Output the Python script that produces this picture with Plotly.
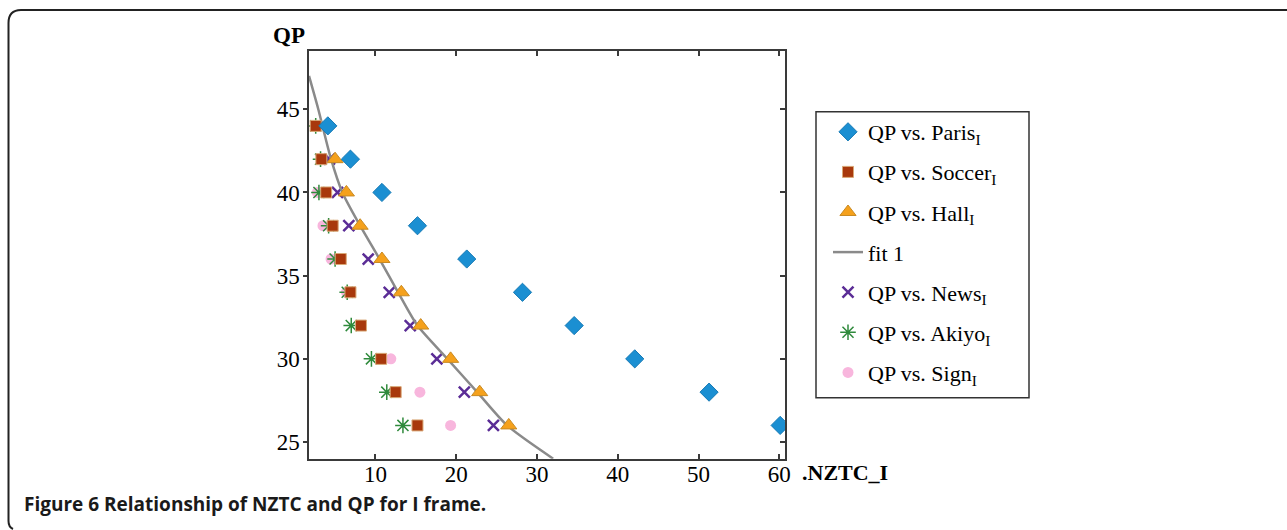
import plotly.graph_objects as go

W, H = 1287, 530

# ---------------- data ----------------
paris_qp = [44, 42, 40, 38, 36, 34, 32, 30, 28, 26]
paris_nztc = [4.1, 6.9, 10.8, 15.2, 21.3, 28.2, 34.6, 42.1, 51.3, 60.1]

soccer_qp = [44, 42, 40, 38, 36, 34, 32, 30, 28, 26]
soccer_nztc = [2.6, 3.3, 3.9, 4.7, 5.7, 6.9, 8.2, 10.7, 12.5, 15.2]

hall_qp = [42, 40, 38, 36, 34, 32, 30, 28, 26]
hall_nztc = [5.0, 6.4, 8.1, 10.8, 13.2, 15.6, 19.3, 22.9, 26.5]

news_qp = [42, 40, 38, 36, 34, 32, 30, 28, 26]
news_nztc = [4.3, 5.3, 6.7, 9.1, 11.7, 14.3, 17.6, 21.0, 24.6]

akiyo_qp = [44, 42, 40, 38, 36, 34, 32, 30, 28, 26]
akiyo_nztc = [2.6, 3.2, 3.0, 4.2, 5.0, 6.5, 7.0, 9.5, 11.4, 13.4]

sign_qp = [40, 38, 36, 34, 32, 30, 28, 26]
sign_nztc = [2.8, 3.5, 4.5, 6.4, 8.2, 11.9, 15.5, 19.3]

fit_nztc = [1.77, 2.92, 4.5, 5.9, 8.1, 10.5, 12.8, 15.2, 18.9, 22.6, 26.3, 32.0]
fit_qp = [47.0, 45.0, 42.0, 40.0, 38.0, 36.0, 34.0, 32.0, 30.0, 28.0, 26.0, 24.0]

x_ticks = [10, 20, 30, 40, 50, 60]
y_ticks = [25, 30, 35, 40, 45]
x_range = [1.77, 60.7]
y_range = [24.0, 48.5]


def px(x):
    return x / W


def py(y):
    return 1 - y / H


SERIF = "Liberation Serif, Times New Roman, serif"
LEG = 22

fig = go.Figure()

# drawing order: back to front; legend order via legendrank
fig.add_trace(go.Scatter(
    x=sign_nztc, y=sign_qp, mode="markers", name="QP vs. Sign<sub>I</sub>",
    marker=dict(symbol="circle", size=11, color="#f8b6dd", line=dict(width=0)),
    legendrank=7, legendgroup="g7"))
fig.add_trace(go.Scatter(
    x=akiyo_nztc, y=akiyo_qp, mode="markers", name="QP vs. Akiyo<sub>I</sub>",
    marker=dict(symbol="asterisk", size=13, color="#2f8a3c",
                line=dict(width=1.5, color="#2f8a3c")),
    legendrank=6, legendgroup="g6"))
fig.add_trace(go.Scatter(
    x=news_nztc, y=news_qp, mode="markers", name="QP vs. News<sub>I</sub>",
    marker=dict(symbol="x-thin", size=11, color="#5b2d96",
                line=dict(width=2.5, color="#5b2d96")),
    legendrank=5, legendgroup="g5"))
fig.add_trace(go.Scatter(
    x=fit_nztc, y=fit_qp, mode="lines", name="fit 1",
    line=dict(color="#8a8a8a", width=2.5, shape="spline", smoothing=0.7),
    legendrank=4, legendgroup="g4"))
fig.add_trace(go.Scatter(
    x=hall_nztc, y=hall_qp, mode="markers", name="QP vs. Hall<sub>I</sub>",
    marker=dict(symbol="triangle-up", size=14, color="#f5a11c",
                line=dict(width=1, color="#c98a22")),
    legendrank=3, legendgroup="g3"))
fig.add_trace(go.Scatter(
    x=soccer_nztc, y=soccer_qp, mode="markers", name="QP vs. Soccer<sub>I</sub>",
    marker=dict(symbol="square", size=11, color="#a8380c",
                line=dict(width=1, color="#d9a877")),
    legendrank=2, legendgroup="g2"))
fig.add_trace(go.Scatter(
    x=paris_nztc, y=paris_qp, mode="markers", name="QP vs. Paris<sub>I</sub>",
    marker=dict(symbol="diamond", size=14, color="#1b8fd2",
                line=dict(width=1, color="#177ab5")),
    legendrank=1, legendgroup="g1"))
# helper (empty) trace so the right-hand overlay axis is drawn
fig.add_trace(go.Scatter(x=[None], y=[None], yaxis="y2", showlegend=False,
                         hoverinfo="skip"))

xdom = [px(309), px(785)]
ydom = [py(458.7), py(51)]
axcol = "#3a3a3a"

fig.update_layout(
    width=W, height=H,
    margin=dict(l=0, r=0, t=0, b=0, autoexpand=False),
    paper_bgcolor="white", plot_bgcolor="white",
    showlegend=True,
    xaxis=dict(domain=xdom, range=x_range, tickvals=x_ticks,
               ticks="inside", ticklen=5, tickwidth=1.5, tickcolor=axcol,
               mirror="ticks", showline=True, linecolor=axcol, linewidth=1.5,
               showgrid=False, zeroline=False, automargin=False,
               ticklabelstandoff=-6,
               tickfont=dict(family=SERIF, size=23, color="black")),
    yaxis=dict(domain=ydom, range=y_range, tickvals=y_ticks,
               ticks="outside", ticklen=4, tickwidth=1.5, tickcolor=axcol,
               mirror=True, showline=True, linecolor=axcol, linewidth=1.5,
               showgrid=False, zeroline=False, automargin=False,
               ticklabelstandoff=-1,
               tickfont=dict(family=SERIF, size=23, color="black")),
    yaxis2=dict(overlaying="y", side="right", range=y_range, tickvals=y_ticks,
                ticks="inside", ticklen=5, tickwidth=1.5, tickcolor=axcol,
                showticklabels=False, showline=False, showgrid=False,
                zeroline=False, automargin=False),
    legend=dict(x=px(828), y=py(111), xanchor="left", yanchor="top",
                bgcolor="rgba(0,0,0,0)", borderwidth=0,
                tracegroupgap=8.5,
                font=dict(family=SERIF, size=LEG, color="black")),
)

shapes = []
# legend box
shapes.append(dict(type="rect", xref="paper", yref="paper",
                   x0=px(816), x1=px(1029), y0=py(397.7), y1=py(111.7),
                   line=dict(color="#333333", width=1.5)))
# figure frame (top + left with rounded corners)
path = (f"M {px(1287)},{py(10)} L {px(21)},{py(10)} "
        f"Q {px(8.5)},{py(10)} {px(8.5)},{py(23)} "
        f"L {px(8.5)},{py(521)} Q {px(8.5)},{py(527)} {px(13)},{py(529)}")
shapes.append(dict(type="path", xref="paper", yref="paper", path=path,
                   line=dict(color="#222222", width=2)))
fig.update_layout(shapes=shapes)

fig.add_annotation(x=px(289), y=py(36), xref="paper", yref="paper",
                   text="<b>QP</b>", showarrow=False, xanchor="center",
                   yanchor="middle",
                   font=dict(family=SERIF, size=23, color="black"))
fig.add_annotation(x=px(800), y=py(472), xref="paper", yref="paper",
                   text="<b>.NZTC_I</b>", showarrow=False, xanchor="left",
                   yanchor="middle",
                   font=dict(family=SERIF, size=22, color="black"))
fig.add_annotation(x=px(22), y=py(504), xref="paper", yref="paper",
                   text="<b>Figure 6 Relationship of NZTC and QP for I frame.</b>",
                   showarrow=False, xanchor="left", yanchor="middle",
                   font=dict(family="Open Sans, sans-serif", size=19,
                             color="#1a1a1a"))

fig.write_html("out.html",
               config={"displayModeBar": False},
               post_script="document.body.style.margin='0';"
                           "document.body.style.overflow='hidden';")
